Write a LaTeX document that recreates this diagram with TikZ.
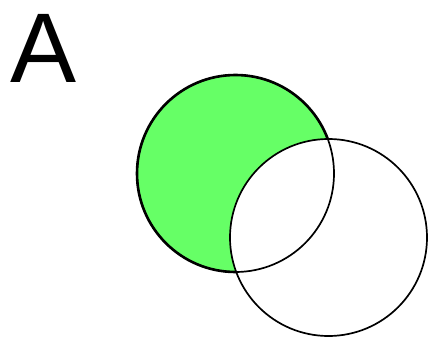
\documentclass[tikz,border=0pt]{standalone}
\usepackage{fontspec}
\setmainfont{Liberation Sans}
\definecolor{setgreen}{RGB}{102,255,102}
\begin{document}
\begin{tikzpicture}[x=1pt,y=-1pt]
    \useasboundingbox (0,0) rectangle (429,337);
    \coordinate (ca) at (235.5,173.5);
    \coordinate (cb) at (328.5,237.5);
    \def\rad{98.5}

    % A minus B
    \begin{scope}[even odd rule]
        \clip (-10,-10) rectangle (440,350) (cb) circle[radius=\rad];
        \fill[setgreen] (ca) circle[radius=\rad];
        \draw[line width=2.6pt] (ca) circle[radius=\rad];
    \end{scope}

    % Outlines
    \draw[line width=1.7pt] (ca) circle[radius=\rad];
    \draw[line width=1.7pt] (cb) circle[radius=\rad];

    \node[anchor=base west, inner sep=0pt, font=\fontsize{99}{99}\selectfont] (lbl) at (10,83) {A};
\end{tikzpicture}
\end{document}
